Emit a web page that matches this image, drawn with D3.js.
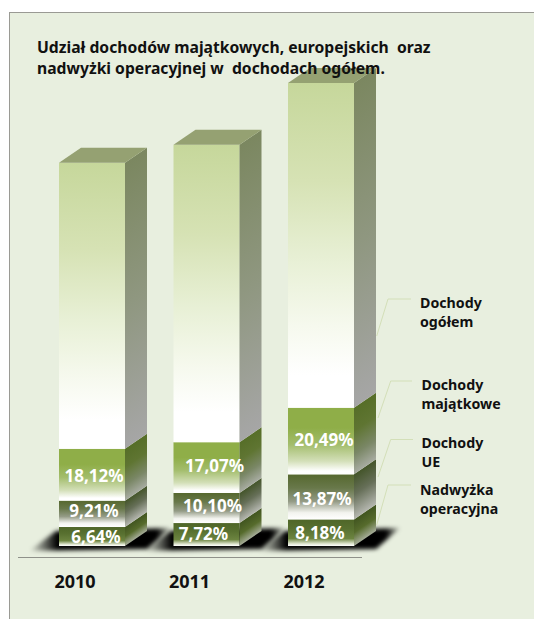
<!DOCTYPE html>
<html lang="pl">
<head>
<meta charset="utf-8">
<title>Udział dochodów</title>
<script src="https://cdn.jsdelivr.net/npm/d3@7"></script>
<style>
  html, body { margin: 0; padding: 0; background: #fff; }
  svg { display: block; }
  text { font-family: "Noto Sans", "Open Sans", sans-serif; font-weight: 700; }
</style>
</head>
<body>
<div id="chart"></div>
<script>
// Years along the axis
const years = ["2010", "2011", "2012"];
// Total income per year, relative to 2010 = 100 (the tall top block of each column)
const totalIncome = [100, 104, 113.6];
// Share of total income, in percent
const surplusShare = [6.64, 7.72, 8.18];
const euShare = [9.21, 10.10, 13.87];
const assetShare = [18.12, 17.07, 20.49];
const seriesNames = ["surplus", "eu", "asset", "total"];

const titleLines = [
  "Udział dochodów majątkowych, europejskich  oraz",
  "nadwyżki operacyjnej w  dochodach ogółem."
];
const legendLabels = [
  ["Dochody", "ogółem"],
  ["Dochody", "majątkowe"],
  ["Dochody", "UE"],
  ["Nadwyżka", "operacyjna"]
];

const W = 534, H = 619;
const depthX = 22, depthY = -15;
const fmt = v => v.toFixed(2).replace(".", ",") + "%";

const svg = d3.select("#chart").append("svg").attr("width", W).attr("height", H);
const defs = svg.append("defs");

function gradient(id, stops) {
  const g = defs.append("linearGradient").attr("id", id)
    .attr("x1", 0).attr("y1", 0).attr("x2", 0).attr("y2", 1);
  stops.forEach(([o, c]) => g.append("stop").attr("offset", o).attr("stop-color", c));
}

// Front and side shading of every block
gradient("front-total", [[0, "#c6d79b"], [0.3, "#d6e2b4"], [0.55, "#e8f0d6"], [0.75, "#f6f9ee"], [0.9, "#ffffff"], [1, "#ffffff"]]);
gradient("side-total", [[0, "#7b8760"], [0.5, "#8f9780"], [1, "#a6a6a6"]]);
gradient("front-asset", [[0, "#8fae48"], [0.3, "#8fae48"], [0.55, "#a3bd6c"], [0.8, "#d3dfb8"], [0.95, "#ffffff"], [1, "#ffffff"]]);
gradient("side-asset", [[0, "#566e28"], [0.35, "#5f7532"], [0.7, "#7a8766"], [1, "#a8aca2"]]);
gradient("front-eu", [[0, "#56682f"], [0.3, "#68784a"], [0.6, "#949b86"], [0.85, "#f2f3ee"], [1, "#ffffff"]]);
gradient("side-eu", [[0, "#44552a"], [0.45, "#666f58"], [1, "#b5b7b0"]]);
gradient("front-surplus", [[0, "#4f6628"], [0.35, "#587030"], [0.72, "#6c8440"], [0.92, "#e2e8d4"], [1, "#ffffff"]]);
gradient("side-surplus", [[0, "#415520"], [0.5, "#566b2c"], [1, "#a5ac98"]]);

const shadowFade = defs.append("linearGradient").attr("id", "shadow-fade");
[[0, 0], [0.2, 1], [0.9, 1], [1, 0.15]].forEach(([o, a]) =>
  shadowFade.append("stop").attr("offset", o).attr("stop-color", "#000").attr("stop-opacity", a));
defs.append("filter").attr("id", "soft")
  .attr("x", "-10%").attr("y", "-30%").attr("width", "120%").attr("height", "160%")
  .append("feGaussianBlur").attr("stdDeviation", 2);

// Panel: open on the right and bottom, where it runs off the page
svg.append("rect").attr("x", 9.5).attr("y", 12.5).attr("width", W).attr("height", H)
  .attr("fill", "#e8efdf").attr("stroke", "#9a9a94").attr("stroke-width", 1);

// Scales
const x = d3.scaleBand().domain(years).range([59, 354]).paddingInner(48.5 / 114.5);
const y = d3.scaleLinear().domain([0, 100]).range([546, 260]);

// Stack of absolute amounts: each share is taken of that year's total
const rows = years.map((year, i) => ({
  year,
  surplus: surplusShare[i] * totalIncome[i] / 100,
  eu: euShare[i] * totalIncome[i] / 100,
  asset: assetShare[i] * totalIncome[i] / 100,
  total: totalIncome[i]
}));
const stacked = d3.stack().keys(seriesNames)(rows);

// Floor shadows
const floor = y(0);
svg.append("g").selectAll("path").data(years).join("path")
  .attr("d", d => {
    const p = d3.path(), b = x(d);
    p.moveTo(b - 30, floor + 5);
    p.lineTo(b - 3, floor - 15);
    p.lineTo(b + 112, floor - 18);
    p.lineTo(b + 88, floor + 3);
    p.closePath();
    return p.toString();
  })
  .attr("fill", "url(#shadow-fade)")
  .attr("filter", "url(#soft)");

// Axis baseline and year labels
svg.append("line").attr("x1", 18).attr("x2", 362).attr("y1", 557.5).attr("y2", 557.5)
  .attr("stroke", "#8f918a").attr("stroke-width", 1);
const axis = svg.append("g").attr("transform", "translate(-17,575)")
  .call(d3.axisBottom(x).tickSize(0).tickPadding(0));
axis.select(".domain").remove();
axis.selectAll("text").attr("font-size", 18).attr("fill", "#111")
  .style("font-family", '"Noto Sans", sans-serif').style("font-weight", 700);

// Columns
const blocks = svg.append("g");
stacked.forEach(layer => {
  const key = layer.key;
  const g = blocks.append("g").attr("class", "layer-" + key);
  g.selectAll("rect.front").data(layer).join("rect").attr("class", "front")
    .attr("x", d => x(d.data.year))
    .attr("y", d => y(d[1]))
    .attr("width", x.bandwidth())
    .attr("height", d => y(d[0]) - y(d[1]))
    .attr("fill", `url(#front-${key})`);
  // Side face: a rectangle sheared upward, so its shading follows the depth edge
  g.selectAll("rect.side").data(layer).join("rect").attr("class", "side")
    .attr("width", depthX)
    .attr("height", d => y(d[0]) - y(d[1]))
    .attr("transform", d => `matrix(1,${depthY / depthX},0,1,${x(d.data.year) + x.bandwidth()},${y(d[1])})`)
    .attr("fill", `url(#side-${key})`);
});

// Top faces
const topLayer = stacked[stacked.length - 1];
blocks.append("g").selectAll("path").data(topLayer).join("path")
  .attr("d", d => {
    const l = x(d.data.year), t = y(d[1]), p = d3.path();
    p.moveTo(l, t);
    p.lineTo(l + depthX, t + depthY);
    p.lineTo(l + x.bandwidth() + depthX, t + depthY);
    p.lineTo(l + x.bandwidth(), t);
    p.closePath();
    return p.toString();
  })
  .attr("fill", "#95a172");

// Percentage labels, centred in their blocks with small per-label adjustments
const labelNudge = {
  surplus: [[4, 1], [-3, 0], [-1, 1]],
  eu: [[2, -2], [6, -1], [1, 3]],
  asset: [[2, 2], [8, -1], [3, 0]]
};
const labelled = [
  ["surplus", surplusShare, stacked[0]],
  ["eu", euShare, stacked[1]],
  ["asset", assetShare, stacked[2]]
];
const labels = svg.append("g");
labelled.forEach(([key, shares, layer]) => {
  labels.selectAll(null).data(layer).join("text")
    .attr("x", (d, i) => x(d.data.year) + x.bandwidth() / 2 + labelNudge[key][i][0])
    .attr("y", (d, i) => (y(d[0]) + y(d[1])) / 2 + 5 + labelNudge[key][i][1])
    .attr("text-anchor", "middle")
    .attr("font-size", 17)
    .attr("fill", "#fff")
    .text((d, i) => fmt(shares[i]));
});

// Legend with leader lines
const leaders = [
  [[376.7, 336], [388, 299], [411, 299]],
  [[378, 418], [390.7, 381], [412, 381]],
  [[378, 477], [390.7, 439.5], [413, 439.5]],
  [[376.7, 525], [388, 485], [411, 485]]
];
const legendAnchors = [[420, 308], [421.5, 390], [421.5, 448], [420, 495]];
svg.append("g").selectAll("path").data(leaders).join("path")
  .attr("d", d3.line())
  .attr("fill", "none").attr("stroke", "#d3dfb8").attr("stroke-width", 1);
const legend = svg.append("g").selectAll("text").data(legendLabels).join("text")
  .attr("font-size", 14.2).attr("fill", "#111");
legend.each(function (lines, i) {
  d3.select(this).selectAll("tspan").data(lines).join("tspan")
    .attr("x", legendAnchors[i][0])
    .attr("y", (d, j) => legendAnchors[i][1] + j * 19)
    .text(d => d);
});

// Title, drawn last so it sits over the tallest column
svg.append("g").selectAll("text").data(titleLines).join("text")
  .attr("x", 37)
  .attr("y", (d, i) => 53 + i * 21)
  .attr("font-size", 15.7)
  .attr("fill", "#111")
  .attr("xml:space", "preserve")
  .style("white-space", "pre")
  .text(d => d);
</script>
</body>
</html>
